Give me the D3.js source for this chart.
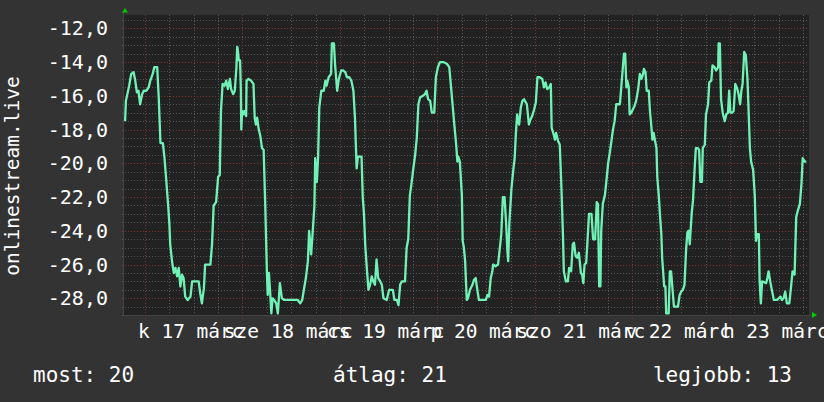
<!DOCTYPE html>
<html>
<head>
<meta charset="utf-8">
<script src="https://cdn.jsdelivr.net/npm/d3@7/dist/d3.min.js"></script>
<style>
  body { margin: 0; background: #333333; }
  svg { display: block; }
  text { font-family: "DejaVu Sans Mono", monospace; fill: #ffffff; }
</style>
</head>
<body>
<svg id="chart"></svg>
<script>
// hours after 2020-03-17 00:00, value
const samples = [
  [-4.9,-17.5],[-4.7,-16.3],[-3.9,-15.4],[-3.4,-14.7],[-2.8,-14.6],[-2.4,-15.1],[-2.0,-15.8],[-1.6,-15.7],
  [-1.2,-16.5],[-0.7,-15.9],[-0.3,-15.7],[0.3,-15.7],[0.9,-15.5],[1.3,-15.1],[1.9,-14.7],[2.3,-14.3],
  [3.0,-14.3],[3.4,-16.2],[3.8,-18.8],[4.4,-18.8],[4.8,-19.7],[5.2,-20.9],[5.7,-22.5],[6.0,-23.6],
  [6.2,-24.8],[6.7,-25.9],[7.1,-26.5],[7.5,-26.2],[7.9,-26.7],[8.3,-26.2],[8.7,-27.3],[9.1,-26.6],
  [9.5,-26.8],[9.9,-27.9],[10.5,-28.1],[11.2,-27.9],[11.6,-27.0],[13.2,-27.0],[13.6,-27.7],[14.0,-28.3],
  [14.5,-27.4],[14.8,-26.0],[16.1,-26.0],[16.5,-24.8],[16.9,-22.5],[17.5,-22.3],[18.0,-20.8],[18.4,-20.7],
  [18.7,-16.9],[19.1,-15.3],[19.6,-15.4],[20.0,-15.1],[20.4,-15.6],[20.9,-15.0],[21.2,-15.6],[21.7,-15.9],
  [22.1,-15.7],[22.5,-14.3],[22.7,-13.1],[22.8,-13.2],[23.1,-13.9],[23.4,-13.9],[23.6,-15.7],[23.7,-18.0],
  [23.9,-16.9],[24.2,-17.1],[24.5,-16.9],[24.9,-17.2],[25.0,-15.1],[25.5,-15.0],[26.1,-15.1],[26.7,-15.3],
  [27.0,-17.3],[27.3,-17.7],[27.6,-17.3],[28.0,-18.0],[28.4,-18.4],[28.8,-19.1],[29.2,-19.2],[29.6,-22.5],
  [30.0,-26.4],[30.2,-27.8],[30.5,-26.5],[30.8,-27.6],[31.1,-28.9],[31.4,-28.0],[31.8,-28.1],[32.3,-28.3],
  [32.7,-28.9],[32.9,-28.2],[33.2,-27.1],[33.7,-28.0],[34.3,-28.1],[37.6,-28.1],[38.2,-28.3],[38.7,-28.1],
  [39.1,-27.5],[39.6,-26.8],[40.1,-25.8],[40.4,-24.0],[40.9,-25.4],[41.3,-24.0],[41.7,-22.5],[41.9,-19.7],
  [42.3,-21.1],[42.6,-19.7],[42.9,-16.7],[43.4,-15.7],[44.0,-15.7],[44.4,-15.1],[44.7,-15.4],[45.2,-14.9],
  [45.8,-14.7],[46.0,-12.9],[46.5,-12.9],[46.8,-14.2],[47.3,-15.7],[47.7,-15.0],[48.3,-14.5],[48.8,-14.5],
  [49.3,-14.6],[49.7,-14.9],[50.3,-14.9],[50.8,-15.1],[51.3,-15.7],[51.7,-17.4],[51.9,-18.9],[52.1,-20.3],
  [52.4,-19.6],[53.3,-19.6],[53.6,-22.0],[53.9,-23.0],[54.2,-24.8],[54.6,-26.2],[55.0,-27.5],[55.4,-27.2],
  [55.8,-26.7],[56.2,-27.0],[56.6,-27.2],[57.0,-25.7],[57.4,-26.8],[57.9,-27.0],[58.3,-27.2],[58.7,-28.0],
  [59.5,-28.1],[60.1,-27.5],[61.0,-27.5],[61.4,-28.1],[62.0,-28.1],[62.4,-28.4],[62.8,-27.2],[63.2,-27.0],
  [64.0,-27.0],[64.4,-25.0],[64.8,-24.5],[65.2,-21.9],[65.6,-21.2],[66.0,-20.4],[66.5,-19.5],[66.9,-18.5],
  [67.3,-16.5],[67.7,-16.1],[68.4,-16.0],[68.9,-15.9],[69.3,-15.7],[69.7,-16.2],[70.2,-16.3],[70.6,-17.0],
  [71.2,-17.0],[71.6,-14.9],[72.1,-14.3],[72.6,-14.0],[73.4,-14.0],[74.3,-14.1],[74.9,-14.3],[75.3,-15.4],
  [75.7,-16.5],[76.1,-17.6],[76.6,-18.9],[76.9,-19.9],[77.1,-19.6],[77.5,-19.9],[78.0,-21.9],[78.2,-24.6],
  [78.5,-25.0],[78.8,-25.8],[79.2,-28.1],[79.5,-28.0],[80.0,-27.5],[80.6,-27.2],[81.0,-26.9],[81.4,-26.8],
  [81.8,-27.5],[82.2,-28.1],[83.9,-28.1],[84.3,-27.8],[84.7,-27.9],[85.1,-26.8],[85.5,-26.4],[85.7,-26.0],
  [86.3,-26.1],[86.9,-26.0],[87.4,-24.9],[87.7,-24.2],[88.1,-22.0],[88.5,-22.0],[88.9,-23.6],[89.2,-25.2],
  [89.4,-25.8],[89.7,-23.5],[90.2,-21.5],[90.7,-20.3],[91.0,-19.7],[91.3,-18.2],[91.6,-17.1],[92.1,-17.7],
  [92.5,-16.7],[92.9,-16.3],[93.3,-16.2],[94.0,-16.5],[94.5,-17.7],[94.9,-17.4],[95.3,-17.2],[95.8,-16.8],
  [96.2,-16.4],[96.6,-14.9],[97.2,-14.9],[97.8,-15.0],[98.2,-15.5],[98.6,-15.2],[99.0,-15.6],[99.5,-15.5],
  [99.9,-15.3],[100.1,-17.9],[100.5,-18.2],[100.9,-18.6],[101.2,-18.2],[101.7,-18.7],[102.1,-18.9],[102.5,-21.4],
  [102.9,-24.4],[103.1,-26.4],[103.6,-27.0],[104.1,-27.0],[104.4,-26.2],[104.9,-26.4],[105.3,-24.8],[105.6,-24.7],
  [106.0,-25.5],[106.4,-25.6],[106.8,-25.3],[107.3,-26.5],[107.6,-26.6],[107.9,-27.1],[108.2,-26.0],[108.6,-25.9],
  [108.9,-24.7],[109.3,-23.0],[109.9,-23.0],[110.3,-24.5],[110.8,-24.5],[111.2,-22.3],[111.5,-22.4],[111.8,-27.3],
  [112.1,-27.3],[112.3,-24.0],[112.7,-22.4],[113.2,-21.9],[113.6,-21.0],[114.0,-20.0],[114.4,-19.4],[114.8,-18.7],
  [115.2,-18.0],[115.6,-17.5],[116.0,-16.5],[116.9,-16.5],[117.2,-15.6],[117.7,-14.1],[117.9,-13.5],[118.2,-13.5],
  [118.5,-15.5],[118.7,-15.1],[119.1,-15.5],[119.3,-17.1],[119.7,-17.0],[120.1,-16.8],[120.5,-16.6],[120.9,-16.3],
  [121.4,-15.6],[121.8,-14.7],[122.2,-15.0],[122.6,-14.7],[122.8,-14.4],[123.2,-14.6],[123.5,-15.7],[124.0,-15.7],
  [124.3,-16.9],[124.6,-17.7],[124.9,-18.6],[125.2,-18.2],[125.5,-18.6],[125.9,-19.1],[126.1,-20.8],[126.5,-22.0],
  [126.8,-23.2],[127.1,-24.2],[127.3,-25.6],[127.8,-27.3],[128.1,-27.3],[128.3,-28.9],[128.9,-28.9],[129.2,-26.4],
  [129.5,-26.4],[129.8,-27.3],[130.2,-28.5],[131.2,-28.5],[131.6,-27.8],[132.0,-27.6],[132.4,-27.5],[132.8,-27.2],
  [133.2,-25.1],[133.5,-24.1],[133.8,-24.0],[134.1,-24.8],[134.3,-24.0],[134.6,-22.9],[134.9,-22.2],[135.3,-20.3],
  [135.6,-19.1],[136.1,-19.1],[136.4,-19.2],[136.7,-21.1],[137.1,-21.1],[137.3,-19.1],[137.8,-18.9],[138.1,-17.1],
  [138.6,-16.5],[138.9,-15.2],[139.4,-15.1],[139.7,-14.2],[140.2,-14.3],[140.6,-14.5],[141.1,-14.3],[141.2,-12.9],
  [141.5,-12.9],[141.8,-16.2],[142.2,-17.0],[142.7,-17.5],[143.1,-17.1],[143.5,-17.0],[143.8,-15.7],[144.1,-17.0],
  [144.5,-17.0],[144.9,-16.9],[145.3,-15.3],[145.7,-15.5],[146.1,-15.9],[146.5,-16.5],[146.8,-15.7],[147.1,-15.3],
  [147.5,-13.4],[147.9,-13.6],[148.3,-15.0],[148.6,-17.0],[148.9,-19.1],[149.2,-19.9],[149.7,-20.4],[150.1,-21.9],
  [150.4,-24.6],[150.7,-24.2],[151.1,-24.2],[151.3,-27.0],[151.6,-28.3],[151.9,-27.0],[152.9,-27.1],[153.2,-26.8],
  [153.5,-26.4],[153.9,-27.0],[154.3,-27.5],[154.8,-28.1],[155.6,-28.1],[156.0,-28.0],[156.4,-27.9],[156.8,-28.1],
  [157.2,-28.0],[157.6,-27.6],[158.0,-28.3],[158.6,-28.3],[159.0,-27.4],[159.4,-26.4],[159.9,-26.6],[160.3,-23.2],
  [160.7,-22.8],[161.2,-22.4],[161.6,-21.2],[161.9,-19.7],[162.4,-19.9],[162.8,-19.9]
];

const yTicks = [-12, -14, -16, -18, -20, -22, -24, -26, -28];
const weekdays = ["v", "h", "k", "sze", "cs", "p", "szo"];
const monthName = "márc";
const axisTitle = "onlinestream.live";
const legendLabels = ["most", "átlag", "legjobb"];
const legendValues = [20, 21, 13];

const width = 824, height = 402;
const plot = { left: 124, right: 809, top: 15, bottom: 316 };

const base = new Date(2020, 2, 17);
const hourToDate = h => new Date(base.getTime() + h * 3600e3);

const x = d3.scaleTime()
  .domain([hourToDate(-5.17), hourToDate(163.45)])
  .range([plot.left, plot.right]);

const y = d3.scaleLinear()
  .domain([-29.05, -11.21])
  .range([plot.bottom, plot.top]);

const svg = d3.select('#chart')
  .attr('width', width)
  .attr('height', height);

svg.append('rect')
  .attr('width', width).attr('height', height)
  .attr('fill', '#333333');

svg.append('rect')
  .attr('x', plot.left).attr('y', plot.top)
  .attr('width', plot.right - plot.left).attr('height', plot.bottom - plot.top)
  .attr('fill', '#222222');

const grid = svg.append('g')
  .attr('stroke-dasharray', '1,2')
  .attr('stroke-width', 1)
  .attr('shape-rendering', 'crispEdges');

// minor horizontal every 0.5
const minorY = d3.range(-29, -11, 0.5).filter(v => y(v) > plot.top && y(v) < plot.bottom && v % 2 !== 0);
grid.selectAll('.hmin')
  .data(minorY)
  .join('line')
  .attr('x1', plot.left - 2).attr('x2', plot.right)
  .attr('y1', d => Math.round(y(d)) + 0.5).attr('y2', d => Math.round(y(d)) + 0.5)
  .attr('stroke', '#575757');

// minor vertical every 6 hours
const minorX = x.ticks(d3.timeHour.every(6)).filter(d => d.getHours() !== 0);
grid.selectAll('.vmin')
  .data(minorX)
  .join('line')
  .attr('x1', d => Math.round(x(d)) + 0.5).attr('x2', d => Math.round(x(d)) + 0.5)
  .attr('y1', plot.top).attr('y2', plot.bottom + 2)
  .attr('stroke', '#575757');

grid.selectAll('.hmaj')
  .data(yTicks)
  .join('line')
  .attr('x1', plot.left - 2).attr('x2', plot.right)
  .attr('y1', d => Math.round(y(d)) + 0.5).attr('y2', d => Math.round(y(d)) + 0.5)
  .attr('stroke', '#7a3434');

const days = x.ticks(d3.timeDay);
grid.selectAll('.vmaj')
  .data(days)
  .join('line')
  .attr('x1', d => Math.round(x(d)) + 0.5).attr('x2', d => Math.round(x(d)) + 0.5)
  .attr('y1', plot.top).attr('y2', plot.bottom + 3)
  .attr('stroke', '#7a3434');

// axis lines
svg.append('line')
  .attr('x1', plot.left - 0.5).attr('x2', plot.left - 0.5)
  .attr('y1', 11).attr('y2', plot.bottom)
  .attr('stroke', '#444444');
svg.append('line')
  .attr('x1', plot.left).attr('x2', 813)
  .attr('y1', plot.bottom - 0.5).attr('y2', plot.bottom - 0.5)
  .attr('stroke', '#444444');

svg.append('path')
  .attr('d', 'M122,12.5L128,12.5L125,8Z')
  .attr('fill', '#00cc00');
svg.append('path')
  .attr('d', `M812,${plot.bottom - 4}L812,${plot.bottom + 2}L817,${plot.bottom - 1}Z`)
  .attr('fill', '#00cc00');

// the line
const line = d3.line()
  .x(d => x(hourToDate(d[0])))
  .y(d => y(d[1]));

svg.append('path')
  .datum(samples)
  .attr('fill', 'none')
  .attr('stroke', '#70f2b6')
  .attr('stroke-width', 2.3)
  .attr('stroke-linejoin', 'round')
  .attr('d', line);

// y tick labels
const fmt = d => d3.format('.1f')(d).replace('.', ',').replace('−', '-');
svg.append('g')
  .selectAll('text')
  .data(yTicks)
  .join('text')
  .attr('x', 108)
  .attr('y', d => y(d) + 7)
  .attr('text-anchor', 'end')
  .style('font-size', '20px')
  .text(fmt);

// x labels at noon
svg.append('g')
  .selectAll('text')
  .data(days)
  .join('text')
  .attr('x', d => x(d3.timeHour.offset(d, 12)) - 3)
  .attr('y', 338)
  .attr('text-anchor', 'middle')
  .style('font-size', '19.5px')
  .text(d => `${weekdays[d.getDay()]} ${d.getDate()} ${monthName}`);

svg.append('text')
  .attr('transform', 'translate(19,176) rotate(-90)')
  .attr('text-anchor', 'middle')
  .style('font-size', '19.5px')
  .text(axisTitle);

// legend
const legendX = [33, 333, 792];
const legendAnchor = ['start', 'start', 'end'];
svg.append('g')
  .selectAll('text')
  .data(legendLabels)
  .join('text')
  .attr('x', (d, i) => legendX[i])
  .attr('y', 382)
  .attr('text-anchor', (d, i) => legendAnchor[i])
  .style('font-size', '21px')
  .text((d, i) => `${d}: ${legendValues[i]}`);
</script>
</body>
</html>
